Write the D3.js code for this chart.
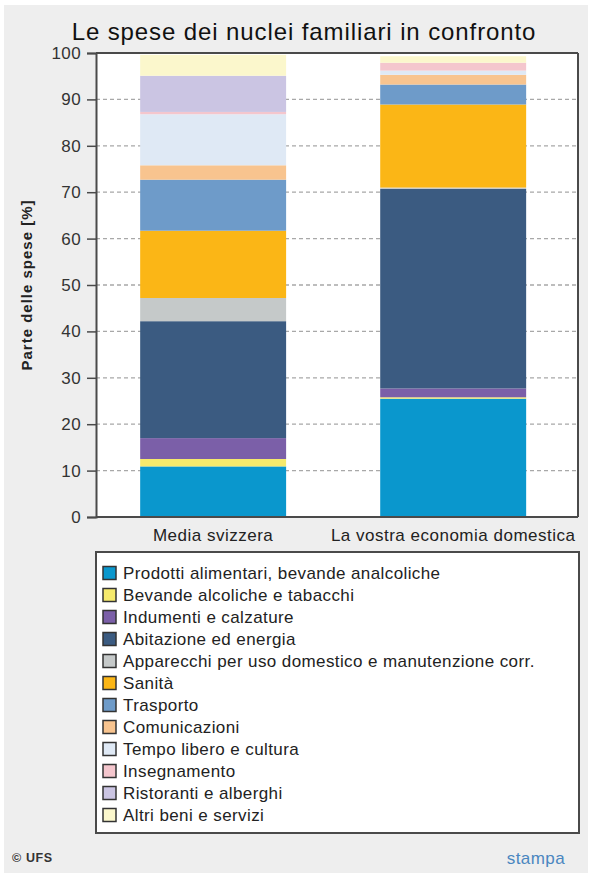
<!DOCTYPE html>
<html>
<head>
<meta charset="utf-8">
<script src="https://cdn.jsdelivr.net/npm/d3@7"></script>
<style>
  html, body { margin: 0; padding: 0; background: #ffffff; }
  svg { display: block; font-family: "Liberation Sans", Arial, sans-serif; }
</style>
</head>
<body>
<svg id="chart" width="604" height="873"></svg>
<script>
const title = "Le spese dei nuclei familiari in confronto";
const yAxisTitle = "Parte delle spese [%]";
const categories = ["Media svizzera", "La vostra economia domestica"];
const seriesNames = [
  "Prodotti alimentari, bevande analcoliche",
  "Bevande alcoliche e tabacchi",
  "Indumenti e calzature",
  "Abitazione ed energia",
  "Apparecchi per uso domestico e manutenzione corr.",
  "Sanità",
  "Trasporto",
  "Comunicazioni",
  "Tempo libero e cultura",
  "Insegnamento",
  "Ristoranti e alberghi",
  "Altri beni e servizi"
];
const mediaSvizzera   = [10.9, 1.6, 4.5, 25.2, 5.0, 14.5, 11.0, 3.1, 11.0, 0.5, 7.8, 4.5];
const vostraEconomia  = [25.5, 0.3, 1.9, 43.0, 0.3, 17.9, 4.3, 2.1, 0.9, 1.7, 0.0, 1.4];
const seriesColors = [
  "#0a97cd", "#f6ea6c", "#7b5fa8", "#3b5b81", "#c5c9c9", "#fbb616",
  "#6e9bc9", "#f8c48f", "#dfe9f5", "#f4c6cd", "#cbc5e3", "#fbf7cc"
];
const yTicks = [0, 10, 20, 30, 40, 50, 60, 70, 80, 90, 100];
const footerLeft = "© UFS";
const footerRight = "stampa";

const svg = d3.select("#chart");
const W = 604, H = 873;

// panel background
svg.append("rect").attr("x", 4).attr("y", 5).attr("width", 584).attr("height", H - 5)
  .attr("fill", "#eeeeee");

const plot = { left: 96, right: 578, top: 53, bottom: 517 };

svg.append("text").attr("x", 304).attr("y", 40).attr("text-anchor", "middle")
  .attr("font-size", 24).attr("letter-spacing", 0.9).attr("fill", "#111").text(title);

svg.append("rect").attr("x", plot.left).attr("y", plot.top)
  .attr("width", plot.right - plot.left).attr("height", plot.bottom - plot.top)
  .attr("fill", "#ffffff");

const x = d3.scaleBand().domain(categories).range([plot.left, plot.right])
  .paddingInner(0.392).paddingOuter(0.2).align(0.46);
const y = d3.scaleLinear().domain([0, 100]).range([plot.bottom, plot.top]);

// gridlines
svg.append("g").selectAll("line").data(yTicks.filter(t => t > 0 && t < 100)).join("line")
  .attr("x1", plot.left).attr("x2", plot.right)
  .attr("y1", d => y(d)).attr("y2", d => y(d))
  .attr("stroke", "#a8a8a8").attr("stroke-width", 1.3).attr("stroke-dasharray", "4,3");

// stacked data
const rows = categories.map((c, i) => {
  const vals = i === 0 ? mediaSvizzera : vostraEconomia;
  const r = { category: c };
  seriesNames.forEach((s, j) => r[s] = vals[j]);
  return r;
});
const stacked = d3.stack().keys(seriesNames)(rows);

svg.append("g").selectAll("g").data(stacked).join("g")
  .attr("fill", (d, i) => seriesColors[i])
  .selectAll("rect").data(d => d).join("rect")
  .attr("x", d => x(d.data.category))
  .attr("width", x.bandwidth())
  .attr("y", d => y(d[1]))
  .attr("height", d => Math.max(0, y(d[0]) - y(d[1])));

// frame
const frame = svg.append("g").attr("stroke", "#4a4a4a").attr("stroke-width", 2).attr("fill", "none");
frame.append("line").attr("x1", plot.left).attr("x2", plot.right).attr("y1", plot.top).attr("y2", plot.top);
frame.append("line").attr("x1", plot.right).attr("x2", plot.right).attr("y1", plot.top).attr("y2", plot.bottom);

// y axis
const yAxis = svg.append("g").attr("transform", `translate(${plot.left},0)`)
  .call(d3.axisLeft(y).tickValues(yTicks).tickSize(9).tickPadding(6));
yAxis.select(".domain").attr("stroke", "#4a4a4a").attr("stroke-width", 2);
yAxis.selectAll(".tick line").attr("stroke", "#4a4a4a").attr("stroke-width", 1.5);
yAxis.selectAll(".tick text").attr("font-size", 17).attr("letter-spacing", 0.4).attr("fill", "#333")
  .attr("font-family", "Liberation Sans, Arial, sans-serif");

// x axis
const xAxis = svg.append("g").attr("transform", `translate(0,${plot.bottom})`)
  .call(d3.axisBottom(x).tickSize(0).tickPadding(12));
xAxis.select(".domain").attr("stroke", "#4a4a4a").attr("stroke-width", 2)
  .attr("d", `M${plot.left},0H${plot.right}`);
xAxis.selectAll(".tick text").attr("font-size", 17).attr("letter-spacing", 0.5).attr("fill", "#222")
  .attr("font-family", "Liberation Sans, Arial, sans-serif");

// y axis title
svg.append("text").attr("transform", `translate(32,${(plot.top + plot.bottom) / 2}) rotate(-90)`)
  .attr("text-anchor", "middle").attr("font-size", 15).attr("font-weight", "bold")
  .attr("letter-spacing", 1).attr("fill", "#222").text(yAxisTitle);

// legend
const lg = { left: 96, right: 579, top: 552, bottom: 833 };
svg.append("rect").attr("x", lg.left).attr("y", lg.top)
  .attr("width", lg.right - lg.left).attr("height", lg.bottom - lg.top)
  .attr("fill", "#ffffff").attr("stroke", "#4a4a4a").attr("stroke-width", 2);

const legendY = d3.scalePoint().domain(seriesNames).range([573, 815]);
const items = svg.append("g").selectAll("g").data(seriesNames).join("g")
  .attr("transform", d => `translate(0,${legendY(d)})`);
items.append("rect").attr("x", 103).attr("y", -6.5).attr("width", 13).attr("height", 13)
  .attr("fill", (d, i) => seriesColors[i]).attr("stroke", "#333").attr("stroke-width", 1.5);
items.append("text").attr("x", 123).attr("y", 6).attr("font-size", 17)
  .attr("letter-spacing", 0.4).attr("fill", "#222").text(d => d);

// footer
svg.append("text").attr("x", 12).attr("y", 862).attr("font-size", 12.5).attr("font-weight", "bold")
  .attr("letter-spacing", 0.6).attr("fill", "#333").text(footerLeft);
svg.append("text").attr("x", 565).attr("y", 864).attr("text-anchor", "end").attr("font-size", 17)
  .attr("letter-spacing", 0.4).attr("fill", "#4a86c0").text(footerRight);
</script>
</body>
</html>
